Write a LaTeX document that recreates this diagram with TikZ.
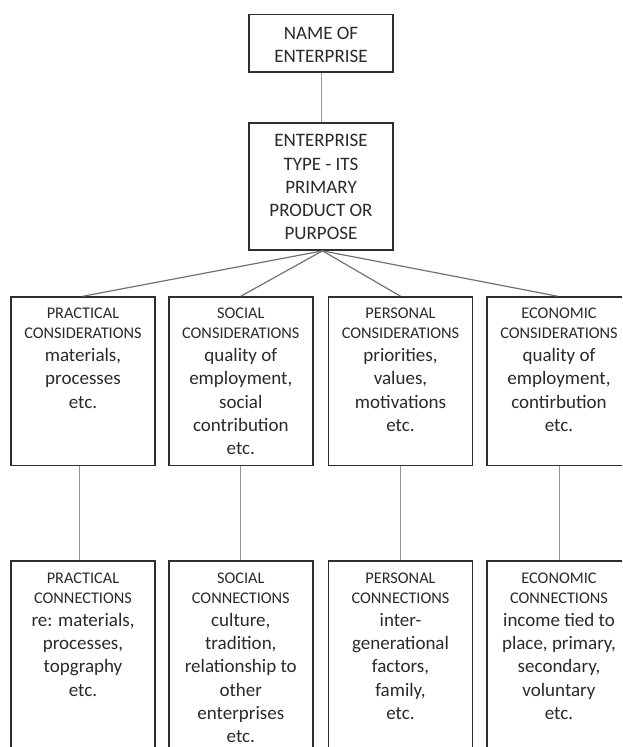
\documentclass[tikz,border=0pt]{standalone}
\usepackage{fontspec}
\setmainfont{Carlito}
\definecolor{txt}{HTML}{2A2A2A}
\definecolor{boxline}{HTML}{2E2E2E}
\definecolor{conn}{HTML}{959595}
\definecolor{fan}{HTML}{727272}
\newcommand\hdtext[2]{\begin{minipage}[t]{140pt}\centering\parindent0pt\parskip0pt
  \fontsize{16.3}{20}\selectfont #1\par
  \fontsize{19}{23.2}\selectfont #2\par\end{minipage}}
\newcommand\plaintext[1]{\begin{minipage}[t]{140pt}\centering\parindent0pt\parskip0pt
  \fontsize{19}{23.2}\selectfont #1\par\end{minipage}}
\begin{document}
\begin{tikzpicture}[x=1pt,y=-1pt,
  box/.style={draw=boxline,line width=1.7pt,rectangle,inner sep=0pt,minimum width=144pt},
  lbl/.style={anchor=base,inner sep=0pt,text=txt},
  vline/.style={draw=conn,line width=1pt},
  fanline/.style={draw=fan,line width=1.2pt}]
\useasboundingbox (0,0) rectangle (622,747);
\clip (0,0) rectangle (622,747);
\fill[white] (0,0) rectangle (622,747);
% top boxes
\node[box,minimum height=57.5pt] (n1) at (321,43.3) {};
\node[lbl] (tn1) at (321,39.5) {\plaintext{NAME OF\\ENTERPRISE}};
\node[box,minimum height=127pt] (n2) at (321,186.5) {};
\node[lbl] (tn2) at (321,146.8) {\plaintext{ENTERPRISE\\TYPE - ITS\\PRIMARY\\PRODUCT OR\\PURPOSE}};
% row 1
\node[box,minimum height=168.5pt] (c1) at (83,381.3) {};
\node[box,minimum height=168.5pt] (c2) at (240.8,381.3) {};
\node[box,minimum height=168.5pt] (c3) at (400.5,381.3) {};
\node[box,minimum height=168.5pt] (c4) at (559,381.3) {};
\node[lbl] (tc1) at (83,318.5) {\hdtext{PRACTICAL\\CONSIDERATIONS}{materials,\\processes\\etc.}};
\node[lbl] (tc2) at (240.8,318.5) {\hdtext{SOCIAL\\CONSIDERATIONS}{quality of\\employment,\\social\\contribution\\etc.}};
\node[lbl] (tc3) at (400.5,318.5) {\hdtext{PERSONAL\\CONSIDERATIONS}{priorities,\\values,\\motivations\\etc.}};
\node[lbl] (tc4) at (559,318.5) {\hdtext{ECONOMIC\\CONSIDERATIONS}{quality of\\employment,\\contirbution\\etc.}};
% row 2
\node[box,minimum height=200pt] (d1) at (83,660.7) {};
\node[box,minimum height=200pt] (d2) at (240.8,660.7) {};
\node[box,minimum height=200pt] (d3) at (400.5,660.7) {};
\node[box,minimum height=200pt] (d4) at (559,660.7) {};
\node[lbl] (td1) at (83,583.3) {\hdtext{PRACTICAL\\CONNECTIONS}{re: materials,\\processes,\\topgraphy\\etc.}};
\node[lbl] (td2) at (240.8,583.3) {\hdtext{SOCIAL\\CONNECTIONS}{culture,\\tradition,\\relationship to\\other\\enterprises\\etc.}};
\node[lbl] (td3) at (400.5,583.3) {\hdtext{PERSONAL\\CONNECTIONS}{inter-\\generational\\factors,\\family,\\etc.}};
\node[lbl] (td4) at (559,583.3) {\hdtext{ECONOMIC\\CONNECTIONS}{income tied to\\place, primary,\\secondary,\\voluntary\\etc.}};
% connectors
\draw[vline] (n1.south) -- (n2.north);
\coordinate (fo) at ([xshift=1.5pt]n2.south);
\draw[fanline] (fo) -- (c1.north);
\draw[fanline] (fo) -- (c2.north);
\draw[fanline] (fo) -- (c3.north);
\draw[fanline] (fo) -- ([xshift=-1.5pt]c4.north);
\draw[vline] ([xshift=-3.5pt]c1.south) -- ([xshift=-3.5pt]d1.north);
\draw[vline] (c2.south) -- (d2.north);
\draw[vline] (c3.south) -- (d3.north);
\draw[vline] (c4.south) -- (d4.north);
\end{tikzpicture}
\end{document}
